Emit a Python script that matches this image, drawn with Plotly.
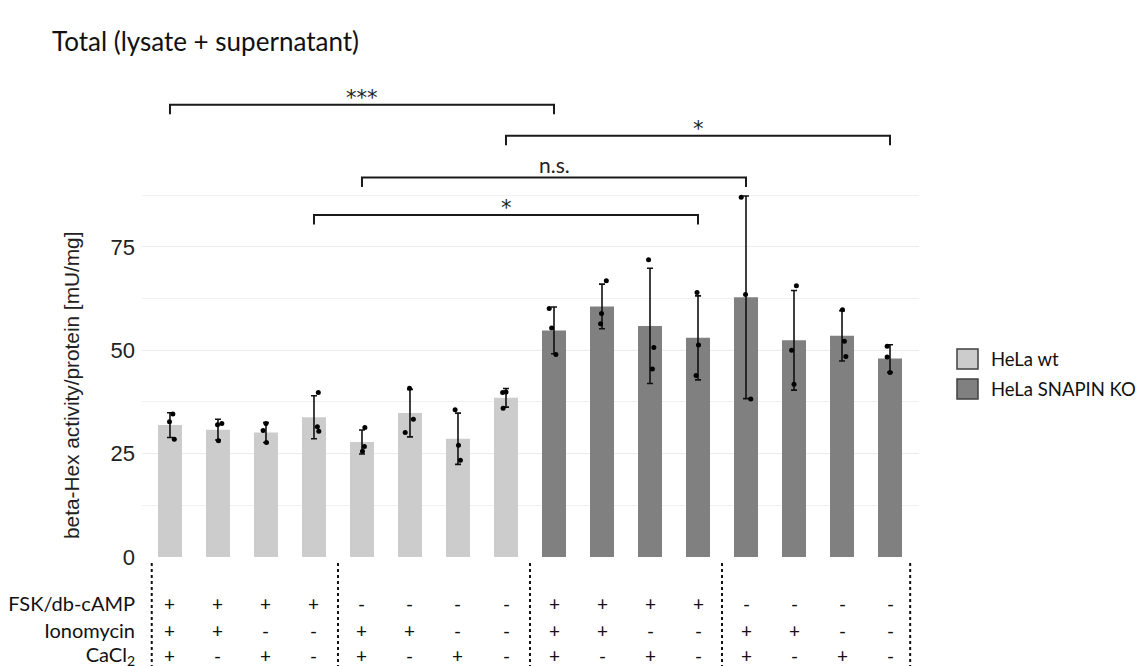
import plotly.graph_objects as go

# ---------------- data ----------------
groups = ["HeLa wt", "HeLa SNAPIN KO"]
wt_means = [31.9, 30.8, 30.1, 33.8, 27.8, 34.8, 28.6, 38.5]
wt_sd = [3.0, 2.5, 2.4, 5.2, 2.9, 5.75, 6.2, 2.25]
ko_means = [54.8, 60.6, 55.9, 53.0, 62.8, 52.4, 53.5, 48.0]
ko_sd = [5.65, 5.4, 13.95, 10.15, 24.5, 12.05, 6.1, 3.35]

replicates = [
    [32.7, 34.6, 28.5], [28.1, 32.3, 32.0], [30.6, 27.7, 32.3], [39.8, 31.5, 30.4],
    [31.3, 26.7, 25.6], [40.8, 33.3, 30.1], [35.6, 27.0, 23.4], [39.8, 39.9, 36.0],
    [60.1, 55.4, 49.0], [66.8, 58.9, 56.4], [71.9, 50.7, 45.5], [64.0, 51.3, 43.9],
    [87.0, 63.5, 38.2], [65.6, 50.0, 41.8], [59.8, 52.2, 48.5], [51.0, 48.4, 44.6],
]
jitter = [
    [-0.01, 0.06, 0.09], [0.01, 0.08, -0.01], [-0.06, 0.01, 0.0], [0.09, 0.07, 0.10],
    [0.06, 0.05, 0.01], [-0.01, 0.07, -0.10], [-0.06, 0.01, 0.05], [-0.07, 0.0, -0.06],
    [-0.10, -0.05, 0.04], [0.09, -0.01, -0.03], [-0.03, 0.08, 0.05], [-0.02, 0.01, -0.04],
    [-0.10, -0.01, 0.10], [0.05, -0.05, 0.0], [0.01, 0.05, 0.08], [-0.06, -0.06, 0.0],
]

row_labels = ["FSK/db-cAMP", "Ionomycin", "CaCl<sub>2</sub>"]
fsk = ["+", "+", "+", "+", "-", "-", "-", "-"] * 2
iono = ["+", "+", "-", "-"] * 4
cacl2 = ["+", "-"] * 8
treatments = [fsk, iono, cacl2]

# comparisons: (bar a, bar b, label, bracket top value)
comparisons = [
    (0, 8, "***", 109.4),
    (7, 15, "*", 101.9),
    (4, 12, "n.s.", 91.8),
    (3, 11, "*", 82.7),
]
separators = [-0.38, 3.5, 7.5, 11.5, 15.42]

# ---------------- styles ----------------
wt_color = "#cccccc"
ko_color = "#808080"
label_font = "Lato, Carlito, Calibri, sans-serif"
star_font = "DejaVu Sans, sans-serif"
axis_font = "Liberation Sans, Arial, sans-serif"

OFF = 8                      # page body margin
W, H = 1146 - OFF, 666 - OFF
ml, mt = 142 - OFF, 96 - OFF
mr, mb = 227, 109
pw = W - ml - mr
ph = H - mt - mb
ymax = 111.5


def paper_x(ref_px):
    return (ref_px - OFF - ml) / pw


def paper_y(ref_px):
    return (H - mb - (ref_px - OFF)) / ph


fig = go.Figure()

n_wt = len(wt_means)
wt_x = list(range(n_wt))
ko_x = list(range(n_wt, n_wt + len(ko_means)))

fig.add_trace(go.Bar(
    x=wt_x, y=wt_means, width=0.5, marker=dict(color=wt_color, line=dict(width=0)),
    name=groups[0], showlegend=False,
    error_y=dict(type="data", array=wt_sd, color="#111111", thickness=1.6, width=3),
))
fig.add_trace(go.Bar(
    x=ko_x, y=ko_means, width=0.5, marker=dict(color=ko_color, line=dict(width=0)),
    name=groups[1], showlegend=False,
    error_y=dict(type="data", array=ko_sd, color="#111111", thickness=1.6, width=3),
))

px, py = [], []
for i, (vals, jit) in enumerate(zip(replicates, jitter)):
    for v, j in zip(vals, jit):
        px.append(i + j)
        py.append(v)
fig.add_trace(go.Scatter(
    x=px, y=py, mode="markers", marker=dict(color="black", size=5),
    showlegend=False, hoverinfo="skip",
))

shapes = []
annotations = []

# significance brackets
for a, b, lab, top in comparisons:
    drop = 2.3
    shapes.append(dict(
        type="path", xref="x", yref="y",
        path=f"M {a},{top - drop} L {a},{top} L {b},{top} L {b},{top - drop}",
        line=dict(color="#1a1a1a", width=2),
    ))
    is_star = lab.startswith("*")
    annotations.append(dict(
        x=(a + b) / 2, y=top, xref="x", yref="y", text=lab, showarrow=False,
        yanchor="middle", yshift=7 if is_star else 13,
        font=dict(family=star_font if is_star else label_font,
                  size=21, color="#222"),
    ))

# dotted separators below axis
for s in separators:
    shapes.append(dict(
        type="line", xref="x", yref="paper", x0=s, x1=s,
        y0=paper_y(563), y1=paper_y(672),
        line=dict(color="#111111", width=2, dash="dot"),
    ))

# treatment table
row_px = [603, 630, 655]
for r, (lab, vals) in enumerate(zip(row_labels, treatments)):
    annotations.append(dict(
        x=paper_x(136), y=paper_y(row_px[r]), xref="paper", yref="paper", text=lab,
        showarrow=False, xanchor="right", yanchor="middle", width=134, align="right",
        borderpad=0,
        font=dict(family=label_font, size=20, color="#111"),
    ))
    for i, v in enumerate(vals):
        annotations.append(dict(
            x=i, y=paper_y(row_px[r]), xref="x", yref="paper", text=v, showarrow=False,
            xanchor="center", yanchor="middle",
            font=dict(family=label_font, size=19, color="#111"),
        ))

# y-axis title (centred lower than the plot area, as in the reference)
annotations.append(dict(
    x=paper_x(72), y=paper_y(386), xref="paper", yref="paper",
    text="beta-Hex activity/protein [mU/mg]", textangle=-90, showarrow=False,
    xanchor="center", yanchor="middle",
    font=dict(family=axis_font, size=20.8, color="#222"),
))

# legend (manual)
leg_items = [(groups[0], wt_color, 349), (groups[1], ko_color, 379)]
for name, col, top_px in leg_items:
    y1 = paper_y(top_px)
    y0 = paper_y(top_px + 20)
    shapes.append(dict(
        type="rect", xref="paper", yref="paper",
        x0=paper_x(957), x1=paper_x(978), y0=y0, y1=y1,
        fillcolor=col, line=dict(color="#404040", width=1.5),
    ))
    annotations.append(dict(
        x=paper_x(989), y=(y0 + y1) / 2, xref="paper", yref="paper", text=name,
        showarrow=False, xanchor="left", yanchor="middle",
        font=dict(family=label_font, size=18.5, color="#111"),
    ))

fig.update_layout(
    width=W, height=H,
    margin=dict(l=ml, r=mr, t=mt, b=mb),
    paper_bgcolor="white", plot_bgcolor="white",
    barmode="overlay",
    title=dict(
        text="Total (lysate + supernatant)", x=(52 - OFF) / W, xanchor="left",
        y=1 - (42 - OFF) / H, yanchor="middle",
        font=dict(family=label_font, size=26, color="#111"),
    ),
    xaxis=dict(range=[-0.583, 15.604], showticklabels=False, showgrid=False,
               zeroline=False, showline=False, ticks=""),
    yaxis=dict(
        range=[0, ymax], tickvals=[0, 25, 50, 75], showgrid=True,
        gridcolor="#ebebeb", gridwidth=1, zeroline=False, showline=False,
        ticks="", ticklabelstandoff=6,
        tickfont=dict(family=axis_font, size=22, color="#222"),
        minor=dict(tickvals=[12.5, 37.5, 62.5, 87.5], showgrid=True,
                   gridcolor="#f0f0f0", gridwidth=1),
    ),
    shapes=shapes,
    annotations=annotations,
)

fig.write_html("out.html")
